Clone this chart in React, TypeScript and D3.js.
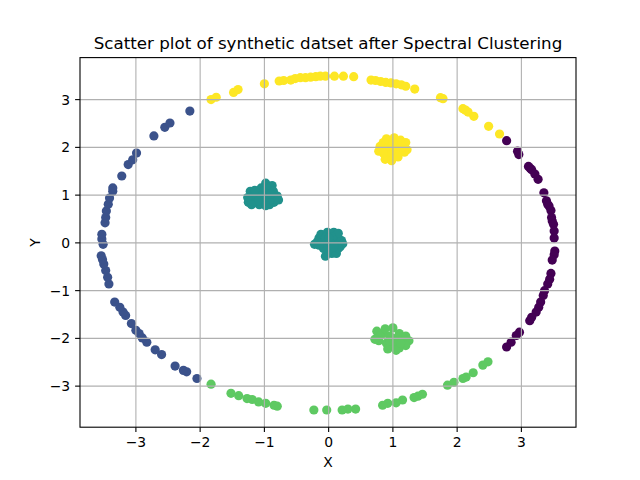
import React from "react";
import * as d3 from "d3";

// cluster labels: 0 purple, 1 blue, 2 teal, 3 green, 4 yellow
const clusterColors = ["#440154", "#3b528b", "#21918c", "#5ec962", "#fde725"];

const xTicks = [-3, -2, -1, 0, 1, 2, 3];
const yTicks = [-3, -2, -1, 0, 1, 2, 3];

// ring segment: yellow (cluster 4)
const ringYellow: [number, number][] = [
  [-1.83, 3.0], [-1.75, 3.05], [-1.48, 3.15], [-1.41, 3.21], [-1.0, 3.33], [-0.77, 3.39],
  [-0.7, 3.4], [-0.59, 3.41], [-0.52, 3.44], [-0.44, 3.46], [-0.36, 3.46], [-0.28, 3.47],
  [-0.2, 3.48], [-0.13, 3.49], [-0.05, 3.49], [0.09, 3.49], [0.23, 3.49], [0.39, 3.48],
  [0.66, 3.41], [0.73, 3.4], [0.81, 3.38], [0.89, 3.36], [0.97, 3.35], [1.05, 3.33],
  [1.13, 3.31], [1.2, 3.28], [1.34, 3.22], [1.74, 3.04], [1.78, 3.02], [2.09, 2.81],
  [2.13, 2.78], [2.17, 2.74], [2.26, 2.65], [2.49, 2.44], [2.66, 2.28],
];
// ring segment: purple (cluster 0)
const ringPurple: [number, number][] = [
  [2.77, 2.14], [2.94, 1.92], [2.96, 1.85], [3.11, 1.6], [3.14, 1.56], [3.16, 1.53],
  [3.21, 1.44], [3.26, 1.33], [3.35, 1.05], [3.39, 0.88], [3.41, 0.81], [3.43, 0.77],
  [3.46, 0.68], [3.47, 0.53], [3.48, 0.46], [3.5, 0.39], [3.51, 0.25], [3.51, 0.1],
  [3.52, -0.17], [3.51, -0.25], [3.48, -0.36], [3.46, -0.64], [3.44, -0.76], [3.41, -0.86],
  [3.36, -1.0], [3.34, -1.1], [3.3, -1.24], [3.27, -1.35], [3.23, -1.45], [3.16, -1.56],
  [3.13, -1.63], [2.97, -1.87], [2.92, -1.94], [2.84, -2.08], [2.77, -2.18],
];
// ring segment: green (cluster 3)
const ringGreen: [number, number][] = [
  [2.48, -2.49], [2.4, -2.56], [2.25, -2.72], [2.14, -2.81], [2.09, -2.84], [1.95, -2.92],
  [1.85, -2.98], [1.46, -3.17], [1.39, -3.21], [1.33, -3.24], [1.15, -3.29], [1.05, -3.35],
  [0.92, -3.36], [0.84, -3.4], [0.42, -3.48], [0.3, -3.48], [0.21, -3.5], [-0.03, -3.5],
  [-0.23, -3.5], [-0.8, -3.42], [-0.85, -3.4], [-0.98, -3.36], [-1.09, -3.33], [-1.19, -3.28],
  [-1.27, -3.26], [-1.4, -3.2], [-1.52, -3.15], [-1.83, -2.96],
];
// ring segment: blue (cluster 1)
const ringBlue: [number, number][] = [
  [-2.05, -2.84], [-2.21, -2.7], [-2.26, -2.67], [-2.39, -2.58], [-2.6, -2.34], [-2.7, -2.24],
  [-2.83, -2.08], [-2.9, -1.99], [-2.95, -1.9], [-3.0, -1.83], [-3.07, -1.69], [-3.16, -1.52],
  [-3.2, -1.45], [-3.25, -1.35], [-3.33, -1.24], [-3.42, -0.86], [-3.44, -0.72], [-3.47, -0.58],
  [-3.5, -0.44], [-3.52, -0.35], [-3.54, -0.27], [-3.51, -0.03], [-3.53, 0.08], [-3.53, 0.18],
  [-3.48, 0.42], [-3.47, 0.53], [-3.46, 0.67], [-3.43, 0.81], [-3.41, 0.94], [-3.36, 1.08],
  [-3.36, 1.15], [-3.22, 1.4], [-3.12, 1.64], [-3.05, 1.74], [-2.99, 1.88], [-2.72, 2.24],
  [-2.55, 2.42], [-2.47, 2.51], [-2.16, 2.76],
];
// blob around (-1, 1): teal (cluster 2)
const blobTealA: [number, number][] = [
  [-1.0, 1.0], [-1.05, 0.95], [-0.95, 1.05], [-1.1, 1.05], [-0.9, 0.95], [-1.2, 0.9],
  [-1.15, 0.85], [-0.85, 0.85], [-1.05, 1.15], [-0.98, 1.25], [-0.88, 1.2], [-1.22, 1.08],
  [-0.8, 0.98], [-0.78, 0.9], [-1.25, 0.85], [-1.08, 0.8], [-0.92, 0.8], [-1.0, 0.88],
  [-1.12, 0.97], [-0.95, 1.12], [-0.86, 1.08], [-1.18, 1.0], [-1.02, 1.07], [-0.96, 0.92],
  [-1.26, 0.95], [-1.15, 1.1], [-0.82, 0.92], [-1.1, 0.88], [-0.92, 0.88], [-1.2, 0.8],
  [-0.98, 0.78], [-0.9, 1.02],
];
// blob around (0, 0): teal (cluster 2)
const blobTealB: [number, number][] = [
  [0.0, 0.0], [0.05, 0.05], [-0.05, -0.05], [0.1, 0.0], [-0.1, 0.05], [0.15, 0.1],
  [0.2, 0.05], [0.18, -0.08], [0.1, -0.15], [0.05, -0.22], [-0.05, -0.28], [0.0, -0.18],
  [-0.08, -0.12], [-0.15, 0.1], [-0.12, 0.18], [-0.02, 0.22], [0.08, 0.22], [0.15, 0.2],
  [-0.22, -0.03], [-0.18, 0.02], [0.22, -0.02], [0.12, -0.22], [-0.05, 0.12], [0.05, 0.12],
  [-0.15, -0.05], [0.15, -0.12], [0.0, 0.1], [0.08, -0.08],
];
// blob around (1, 2): yellow (cluster 4)
const blobYellow: [number, number][] = [
  [1.0, 2.0], [0.95, 2.05], [1.05, 1.95], [0.9, 1.95], [1.1, 2.05], [0.85, 2.1],
  [0.8, 2.02], [0.78, 1.92], [0.9, 2.18], [1.02, 2.2], [1.12, 2.15], [1.2, 2.1],
  [1.22, 1.95], [1.18, 1.9], [1.05, 1.85], [0.95, 1.85], [0.88, 1.75], [0.98, 1.72],
  [1.08, 1.8], [0.85, 1.88], [1.0, 2.1], [1.15, 2.0],
];
// blob around (1, -2): green (cluster 3)
const blobGreen: [number, number][] = [
  [1.0, -2.0], [0.95, -1.95], [1.05, -2.05], [0.85, -1.9], [0.75, -1.85], [0.8, -1.95],
  [0.78, -2.05], [0.9, -2.1], [1.0, -1.78], [1.1, -1.9], [1.15, -2.0], [1.25, -2.05],
  [1.2, -2.15], [1.1, -2.2], [1.0, -2.18], [0.92, -2.22], [1.05, -2.25], [1.2, -1.95],
  [0.88, -1.8], [0.95, -2.05], [1.12, -2.1], [0.72, -2.02],
];

const groups: { pts: [number, number][]; label: number }[] = [
  { pts: ringYellow, label: 4 },
  { pts: blobTealA, label: 2 },
  { pts: blobTealB, label: 2 },
  { pts: blobYellow, label: 4 },
  { pts: blobGreen, label: 3 },
  { pts: ringGreen, label: 3 },
  { pts: ringBlue, label: 1 },
  { pts: ringPurple, label: 0 },
];

const W = 640;
const H = 480;
const left = 80;
const right = 576;
const top = 57.6;
const bottom = 427.2;

export default function App() {
  const x = d3.scaleLinear().domain([-3.87, 3.85]).range([left, right]);
  const y = d3.scaleLinear().domain([-3.86, 3.88]).range([bottom, top]);
  const font = "DejaVu Sans, sans-serif";
  const fmt = (v: number) => (v < 0 ? "\u2212" + Math.abs(v) : String(v));

  return (
    <svg width={W} height={H} style={{ position: "absolute", left: 0, top: 0, background: "#fff" }}>
      <rect x={0} y={0} width={W} height={H} fill="#fff" />
      {groups.map((g, gi) =>
        g.pts.map((p, i) => (
          <circle key={`${gi}-${i}`} cx={x(p[0])} cy={y(p[1])} r={4.6} fill={clusterColors[g.label]} />
        ))
      )}
      {xTicks.map((t) => (
        <line key={`gx${t}`} x1={x(t)} x2={x(t)} y1={top} y2={bottom} stroke="#b0b0b0" strokeWidth={1.1} />
      ))}
      {yTicks.map((t) => (
        <line key={`gy${t}`} x1={left} x2={right} y1={y(t)} y2={y(t)} stroke="#b0b0b0" strokeWidth={1.1} />
      ))}
      <rect x={left} y={top} width={right - left} height={bottom - top} fill="none" stroke="#000" strokeWidth={1.1} />
      {xTicks.map((t) => (
        <g key={`tx${t}`}>
          <line x1={x(t)} x2={x(t)} y1={bottom} y2={bottom + 4.9} stroke="#000" strokeWidth={1.1} />
          <text x={x(t)} y={bottom + 19.8} textAnchor="middle" fontFamily={font} fontSize={13.9} fill="#000">
            {fmt(t)}
          </text>
        </g>
      ))}
      {yTicks.map((t) => (
        <g key={`ty${t}`}>
          <line x1={left - 4.9} x2={left} y1={y(t)} y2={y(t)} stroke="#000" strokeWidth={1.1} />
          <text x={left - 9.8} y={y(t) + 5} textAnchor="end" fontFamily={font} fontSize={13.9} fill="#000">
            {fmt(t)}
          </text>
        </g>
      ))}
      <text x={(left + right) / 2} y={49} textAnchor="middle" fontFamily={font} fontSize={16.7} fill="#000">
        Scatter plot of synthetic datset after Spectral Clustering
      </text>
      <text x={(left + right) / 2} y={467} textAnchor="middle" fontFamily={font} fontSize={13.9} fill="#000">
        X
      </text>
      <text
        transform={`translate(40, ${(top + bottom) / 2}) rotate(-90)`}
        textAnchor="middle"
        fontFamily={font}
        fontSize={13.9}
        fill="#000"
      >
        Y
      </text>
    </svg>
  );
}
